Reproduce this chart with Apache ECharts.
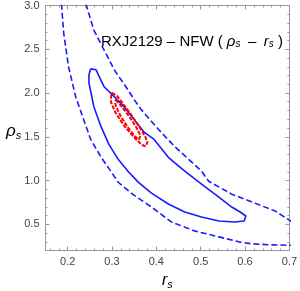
<!DOCTYPE html>
<html><head><meta charset="utf-8">
<script src="https://cdn.jsdelivr.net/npm/echarts@6/dist/echarts.min.js"></script>
<style>html,body{margin:0;padding:0;background:#fff}#c{width:300px;height:291px}</style>
</head><body><div id="c"></div>
<script>
// tick labels
var xTicks = [0.2, 0.3, 0.4, 0.5, 0.6, 0.7];
var yTicks = [0.5, 1.0, 1.5, 2.0, 2.5, 3.0];
// contour lines [r_s, rho_s]
var solidBlue = [[0.252,2.276],[0.264,2.265],[0.282,2.072],[0.305,1.958],[0.327,1.844],[0.350,1.697],[0.373,1.549],[0.395,1.469],[0.427,1.265],[0.464,1.106],[0.502,0.958],[0.541,0.810],[0.570,0.697],[0.589,0.640],[0.602,0.594],[0.605,0.572],[0.598,0.538],[0.577,0.526],[0.541,0.538],[0.502,0.583],[0.464,0.640],[0.427,0.731],[0.389,0.856],[0.359,0.981],[0.336,1.106],[0.314,1.242],[0.293,1.413],[0.275,1.618],[0.259,1.844],[0.248,2.117],[0.248,2.208],[0.252,2.276]];
var dashedLower = [[0.186,3.02],[0.191,2.685],[0.202,2.299],[0.218,1.958],[0.236,1.697],[0.252,1.469],[0.275,1.270],[0.298,1.100],[0.314,0.980],[0.350,0.830],[0.389,0.697],[0.434,0.526],[0.486,0.424],[0.541,0.356],[0.586,0.299],[0.616,0.276],[0.655,0.265],[0.705,0.259]];
var dashedUpper = [[0.241,3.02],[0.259,2.719],[0.282,2.492],[0.305,2.265],[0.336,2.037],[0.350,1.924],[0.366,1.810],[0.405,1.583],[0.441,1.390],[0.473,1.242],[0.502,1.106],[0.518,0.992],[0.570,0.844],[0.616,0.753],[0.668,0.651],[0.705,0.530]];
var redOuter = [[0.300,2.003],[0.311,1.969],[0.325,1.878],[0.343,1.753],[0.361,1.617],[0.375,1.503],[0.380,1.435],[0.375,1.390],[0.366,1.412],[0.348,1.503],[0.327,1.628],[0.309,1.765],[0.298,1.890],[0.298,1.969],[0.300,2.003]];
var redInner = [[0.309,1.924],[0.320,1.856],[0.339,1.731],[0.355,1.606],[0.364,1.515],[0.361,1.469],[0.352,1.503],[0.336,1.606],[0.320,1.731],[0.309,1.844],[0.307,1.901],[0.309,1.924]];

var xMin = 0.15, xMax = 0.7, yMin = 0.2, yMax = 3.0;
var xMinor = [], yMinor = [];
for (var i = 8; i <= 35; i++) xMinor.push(+(i * 0.02).toFixed(2));
for (var j = 2; j <= 30; j++) yMinor.push(+(j * 0.1).toFixed(1));

var frame = '#999';
function xAx(pos, vals, len, labels) {
  return { type:'value', position:pos, min:xMin, max:xMax,
    axisLine:{show:true, lineStyle:{color:frame, width:1}},
    axisTick:{show:true, inside:true, length:len, customValues:vals, lineStyle:{color:frame}},
    axisLabel:{show:labels, customValues:vals, color:'#444', fontSize:11, fontFamily:'Liberation Sans', margin:6,
      formatter:function(v){return v.toFixed(1);}},
    splitLine:{show:false} };
}
function yAx(pos, vals, len, labels) {
  return { type:'value', position:pos, min:yMin, max:yMax,
    axisLine:{show:true, lineStyle:{color:frame, width:1}},
    axisTick:{show:true, inside:true, length:len, customValues:vals, lineStyle:{color:frame}},
    axisLabel:{show:labels, customValues:vals, color:'#444', fontSize:11, fontFamily:'Liberation Sans', margin:6,
      formatter:function(v){return v.toFixed(1);}},
    splitLine:{show:false} };
}
function line(data, color, dash, width) {
  return { type:'line', data:data, showSymbol:false, symbol:'none', clip:true, animation:false,
    lineStyle:{color:color, width:width, type:dash}, z:3 };
}
var chart = echarts.init(document.getElementById('c'));
chart.setOption({
  animation:false,
  grid:{left:45.5, top:5.5, width:244.2, height:245},
  xAxis:[xAx('bottom', xTicks, 4, true), xAx('bottom', xMinor, 2, false), xAx('top', xTicks, 4, false), xAx('top', xMinor, 2, false)],
  yAxis:[yAx('left', yTicks, 4, true), yAx('left', yMinor, 2, false), yAx('right', yTicks, 4, false), yAx('right', yMinor, 2, false)],
  series:[
    line(dashedLower, '#1a1aff', [6,3], 1.6),
    line(dashedUpper, '#1a1aff', [6,3], 1.6),
    line(solidBlue, '#1a1aff', 'solid', 1.6),
    line(redOuter, '#ff0000', [4,1.5], 2),
    line(redInner, '#ff0000', [4,1.5], 2)
  ],
  graphic:[
    {type:'text', left:101, top:34, style:{
      text:'RXJ2129 – NFW ( {i|ρ}{sub|s}\u2002–\u2002{i|r}{sub|s} )',
      fontSize:15, fill:'#000', fontFamily:'Liberation Sans',
      rich:{ i:{fontStyle:'italic', fontSize:15, fontFamily:'Liberation Sans'},
             sub:{fontStyle:'italic', fontSize:10, fontFamily:'Liberation Sans', padding:[6,0,0,0]} } }},
    {type:'text', left:162, top:273, style:{
      text:'{i|r}{sub|s}', fill:'#000',
      rich:{ i:{fontStyle:'italic', fontSize:16, fontFamily:'Liberation Sans'},
             sub:{fontStyle:'italic', fontSize:11, fontFamily:'Liberation Sans', padding:[8,0,0,0]} } }},
    {type:'text', left:6, top:123, style:{
      text:'{i|ρ}{sub|s}', fill:'#000',
      rich:{ i:{fontStyle:'italic', fontSize:17, fontFamily:'Liberation Sans'},
             sub:{fontStyle:'italic', fontSize:11, fontFamily:'Liberation Sans', padding:[8,0,0,0]} } }}
  ]
});
</script></body></html>
